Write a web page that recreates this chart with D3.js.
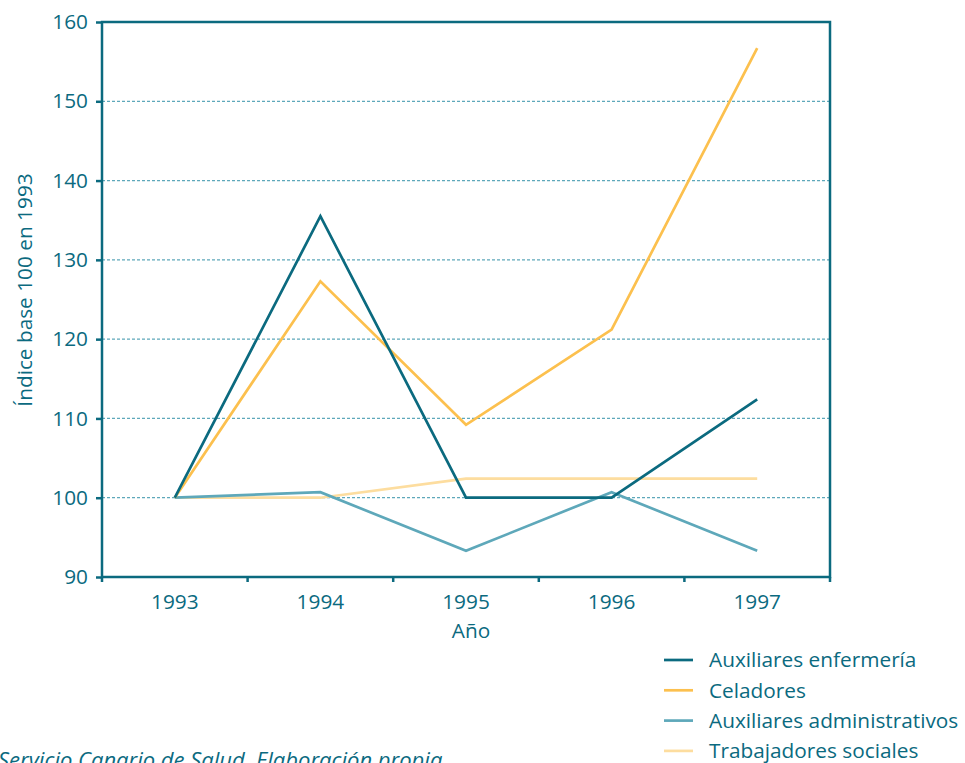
<!DOCTYPE html>
<html><head><meta charset="utf-8">
<script src="https://cdn.jsdelivr.net/npm/d3@7"></script>
<style>body{margin:0;background:#fff;} svg{display:block;font-family:"Open Sans","Noto Sans",sans-serif;}</style>
</head><body>
<svg id="c" width="965" height="763"></svg>
<script>
const years = ["1993","1994","1995","1996","1997"];
const auxEnfermeria = [100, 135.5, 100, 100, 112.4];
const celadores = [100, 127.3, 109.2, 121.2, 156.7];
const auxAdministrativos = [100, 100.7, 93.3, 100.7, 93.3];
const trabajadoresSociales = [100, 100, 102.4, 102.4, 102.4];
const seriesNames = ["Auxiliares enfermería","Celadores","Auxiliares administrativos","Trabajadores sociales"];
const seriesValues = [auxEnfermeria, celadores, auxAdministrativos, trabajadoresSociales];
const seriesColors = ["#0b6a7f","#fcc04e","#5ea8ba","#fddd9f"];
const yTicks = [90,100,110,120,130,140,150,160];

const teal = "#0b6a7f";
const FS = 20.8;
const svg = d3.select("#c");
const L=102, R=830, T=22, B=577;
const x = d3.scaleBand().domain(years).range([L,R]);
const y = d3.scaleLinear().domain([90,160]).range([B,T]);

// grid
svg.append("g").selectAll("line").data(yTicks.filter(v=>v>90 && v<160)).join("line")
  .attr("x1",L).attr("x2",R).attr("y1",d=>y(d)).attr("y2",d=>y(d))
  .attr("stroke","#5ea8ba").attr("stroke-width",1.2).attr("stroke-dasharray","3,2");

// frame
svg.append("rect").attr("x",L).attr("y",T).attr("width",R-L).attr("height",B-T)
  .attr("fill","none").attr("stroke",teal).attr("stroke-width",2.5);

// y axis
const ya = svg.append("g").attr("transform",`translate(${L},0)`)
  .call(d3.axisLeft(y).tickValues(yTicks).tickSize(6).tickPadding(8));
ya.select(".domain").remove();
ya.selectAll("line").attr("stroke",teal).attr("stroke-width",2.5);
ya.selectAll("text").attr("fill",teal).attr("font-size",FS).attr("font-family","Open Sans, Noto Sans, sans-serif");

// x axis
const xa = svg.append("g").attr("transform",`translate(0,${B})`)
  .call(d3.axisBottom(x).tickSize(0).tickPadding(17));
xa.select(".domain").remove();
xa.selectAll("text").attr("fill",teal).attr("font-size",FS).attr("font-family","Open Sans, Noto Sans, sans-serif");
// boundary ticks
const bounds = years.map(d=>x(d)).concat([R]);
svg.append("g").selectAll("line").data(bounds).join("line")
  .attr("x1",d=>d).attr("x2",d=>d).attr("y1",B).attr("y2",B+5)
  .attr("stroke",teal).attr("stroke-width",2.5);

// titles
svg.append("text").attr("x",471).attr("y",638).attr("text-anchor","middle")
  .attr("fill",teal).attr("font-size",FS).text("Año");
svg.append("text").attr("transform","translate(32,290) rotate(-90)").attr("text-anchor","middle")
  .attr("fill",teal).attr("font-size",FS).text("Índice base 100 en 1993");

// lines
const line = d3.line().x((d,i)=>x(years[i])+x.bandwidth()/2).y(d=>y(d));
const order = [3,2,1,0];
svg.append("g").selectAll("path").data(order).join("path")
  .attr("d",i=>line(seriesValues[i])).attr("fill","none")
  .attr("stroke",i=>seriesColors[i]).attr("stroke-width",2.7);

// legend
const lg = svg.append("g");
seriesNames.forEach((n,i)=>{
  const yy = 660 + i*30.3;
  lg.append("line").attr("x1",664).attr("x2",693).attr("y1",yy).attr("y2",yy)
    .attr("stroke",seriesColors[i]).attr("stroke-width",2.7);
  lg.append("text").attr("x",709).attr("y",yy+7.3).attr("fill",teal).attr("font-size",FS).text(n);
});

// source
svg.append("text").attr("x",-2).attr("y",768).attr("fill",teal).attr("font-size",22)
  .attr("font-style","italic").text("Servicio Canario de Salud. Elaboración propia.");
</script>
</body></html>
